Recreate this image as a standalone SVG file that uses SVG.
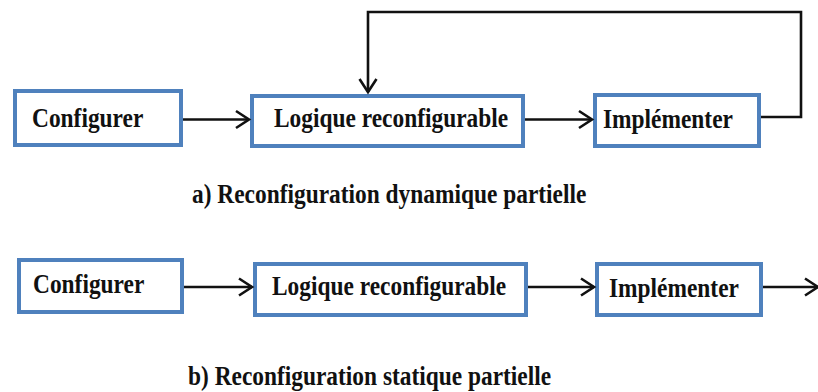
<svg xmlns="http://www.w3.org/2000/svg" width="818" height="392" viewBox="0 0 818 392">
  <style>
    .box { fill: #ffffff; stroke: #4f81bd; stroke-width: 4; }
    .lbl { font-family: "Liberation Serif", "Times New Roman", serif; font-weight: bold; font-size: 23.4px; fill: #111111; }
    .wire { fill: none; stroke: #111111; stroke-width: 2.6; }
  </style>
  <defs>
    <marker id="chev" markerUnits="userSpaceOnUse" markerWidth="22" markerHeight="22" viewBox="0 0 22 22" refX="16" refY="11" orient="auto">
      <path d="M3,2.5 L16,11 L3,19.5" fill="none" stroke="#111111" stroke-width="2.6" stroke-linejoin="miter"/>
    </marker>
  </defs>

  <rect width="818" height="392" fill="#ffffff"/>

  <!-- a) dynamic partial reconfiguration -->
  <g id="a-configurer">
    <rect class="box" x="15" y="91" width="166" height="54"/>
    <text class="lbl" transform="translate(32,127) scale(1,1.14)">Configurer</text>
  </g>
  <g id="a-logique">
    <rect class="box" x="252" y="96" width="271" height="50"/>
    <text class="lbl" transform="translate(274,127) scale(1,1.14)">Logique reconfigurable</text>
  </g>
  <g id="a-implementer">
    <rect class="box" x="595" y="95" width="164" height="51"/>
    <text class="lbl" transform="translate(603,128) scale(1,1.14)">Implémenter</text>
  </g>

  <!-- b) static partial reconfiguration -->
  <g id="b-configurer">
    <rect class="box" x="19" y="260" width="163" height="52"/>
    <text class="lbl" transform="translate(33,293) scale(1,1.14)">Configurer</text>
  </g>
  <g id="b-logique">
    <rect class="box" x="255" y="264" width="271" height="51"/>
    <text class="lbl" transform="translate(272,295) scale(1,1.14)">Logique reconfigurable</text>
  </g>
  <g id="b-implementer">
    <rect class="box" x="597" y="264" width="164" height="51"/>
    <text class="lbl" transform="translate(609,297) scale(1,1.14)">Implémenter</text>
  </g>

  <g id="connectors">
    <line class="wire" x1="183" y1="119.5" x2="249" y2="119.5" marker-end="url(#chev)"/>
    <line class="wire" x1="525" y1="119.5" x2="592" y2="119.5" marker-end="url(#chev)"/>
    <polyline class="wire" points="761,117 801,117 801,12 368,12 368,92" marker-end="url(#chev)"/>

    <line class="wire" x1="184" y1="287" x2="252" y2="287" marker-end="url(#chev)"/>
    <line class="wire" x1="528" y1="287" x2="594" y2="287" marker-end="url(#chev)"/>
    <line class="wire" x1="763" y1="287" x2="818" y2="287" marker-end="url(#chev)"/>
  </g>

  <text class="lbl" transform="translate(192,203) scale(1,1.14)">a) Reconfiguration dynamique partielle</text>
  <text class="lbl" transform="translate(188,385) scale(1,1.14)">b) Reconfiguration statique partielle</text>
</svg>
